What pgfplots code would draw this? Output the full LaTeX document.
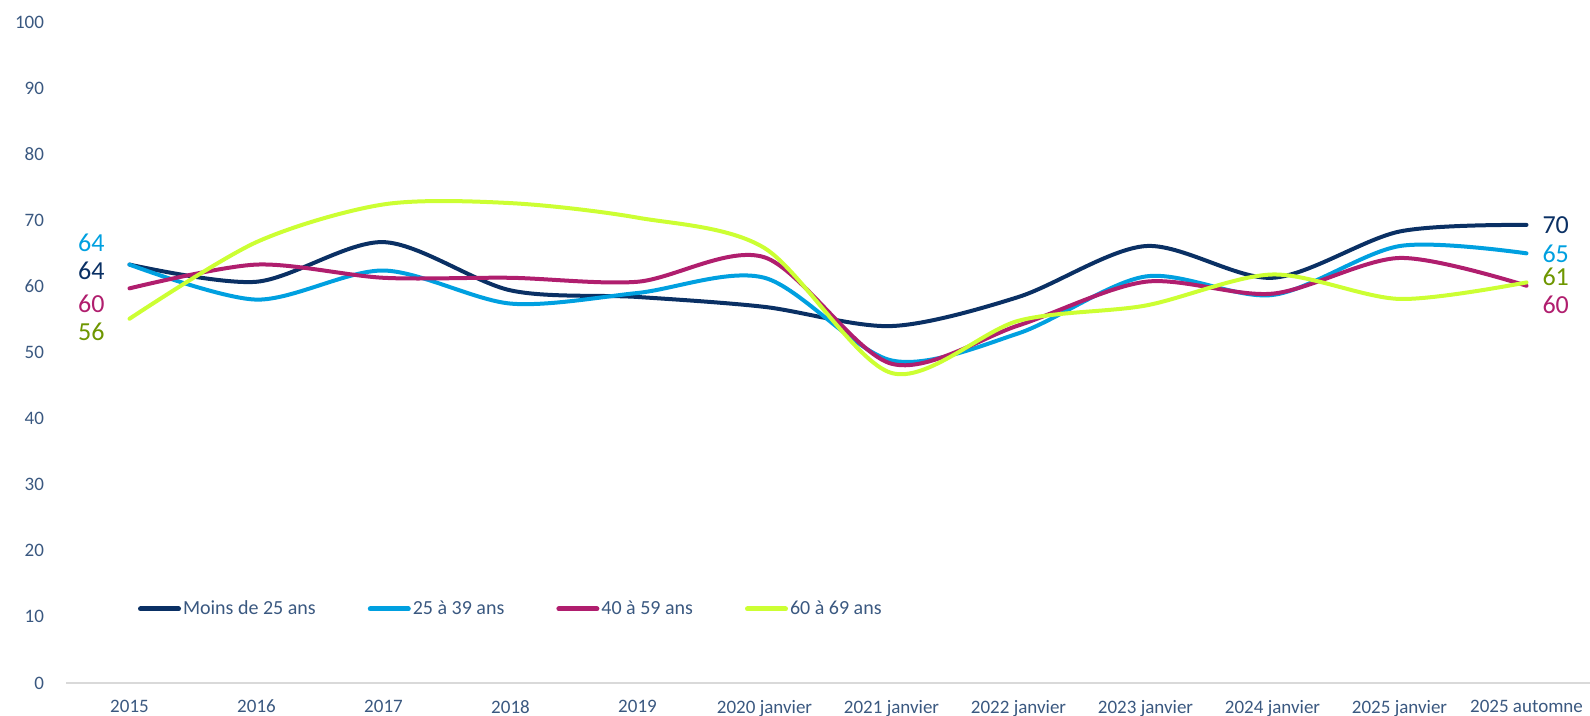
\documentclass[border=0pt]{standalone}
\usepackage{fontspec}
\setmainfont{Carlito}
\usepackage{pgfplots}
\pgfplotsset{compat=1.18}
\definecolor{navyC}{HTML}{0A3064}
\definecolor{cyanC}{HTML}{00A0E0}
\definecolor{magC}{HTML}{B01E6E}
\definecolor{limeC}{HTML}{CCFF33}
\definecolor{oliveC}{HTML}{6E9600}
\definecolor{tickC}{HTML}{3A5880}
\begin{document}
\begin{tikzpicture}
\begin{axis}[
  at={(0,0)}, anchor=south west,
  scale only axis, width=762pt, height=330.5pt,
  xmin=-0.5, xmax=11.5, ymin=0, ymax=100,
  xtick={0,...,11},
  xticklabels={2015,2016,2017,2018,2019,2020 janvier,2021 janvier,2022 janvier,2023 janvier,2024 janvier,2025 janvier,2025 automne},
  ytick={0,10,...,100},
  axis x line*=bottom, axis y line*=left,
  y axis line style={draw=none},
  x axis line style={draw=black!15, line width=1.3pt, -},
  major tick length=0pt,
  /pgf/number format/assume math mode=true,
  tick label style={font=\fontsize{9.5}{11}\selectfont, text=tickC},
  yticklabel style={xshift=-7.5pt},
  xticklabel style={yshift=-5pt},
  clip=false,
  legend columns=4,
  legend cell align=left,
  legend style={at={(0.047,0.112)}, anchor=west, draw=none, fill=none, inner sep=0pt,
    font=\fontsize{10}{12}\selectfont, text=tickC,
    nodes={inner xsep=1pt},
    /tikz/every even column/.append style={column sep=25pt}},
  legend image code/.code={\draw[#1, line width=2.5pt, line cap=round, sharp plot] (1pt,0pt) -- (20pt,0pt);},
  every axis plot/.append style={line width=2pt, smooth, tension=0.5, no markers, line cap=round},
]
\addplot[navyC] coordinates {(0,63.3) (1,60.7) (2,66.7) (3,59.4) (4,58.4) (5,56.9) (6,54.0) (7,58.4) (8,66.1) (9,61.3) (10,68.3) (11,69.3)};
\addlegendentry{Moins de 25 ans}
\addplot[cyanC] coordinates {(0,63.3) (1,58.0) (2,62.4) (3,57.4) (4,59.0) (5,61.3) (6,48.8) (7,52.9) (8,61.5) (9,58.7) (10,66.1) (11,65.0)};
\addlegendentry{25 à 39 ans}
\addplot[magC] coordinates {(0,59.7) (1,63.3) (2,61.3) (3,61.3) (4,60.7) (5,64.4) (6,48.3) (7,54.1) (8,60.7) (9,58.9) (10,64.3) (11,60.1)};
\addlegendentry{40 à 59 ans}
\addplot[limeC] coordinates {(0,55.1) (1,66.7) (2,72.4) (3,72.6) (4,70.4) (5,65.8) (6,46.9) (7,54.8) (8,57.1) (9,61.8) (10,58.1) (11,60.6)};
\addlegendentry{60 à 69 ans}
\begin{scope}[every node/.style={font=\fontsize{13}{15}\selectfont, inner sep=0pt}]
\node[text=cyanC] at (axis cs:-0.30,66.6) {64};
\node[text=navyC] at (axis cs:-0.30,62.4) {64};
\node[text=magC] at (axis cs:-0.30,57.4) {60};
\node[text=oliveC] at (axis cs:-0.30,53.1) {56};
\node[text=navyC] at (axis cs:11.23,69.2) {70};
\node[text=cyanC] at (axis cs:11.23,65.0) {65};
\node[text=oliveC] at (axis cs:11.23,61.5) {61};
\node[text=magC] at (axis cs:11.23,57.2) {60};
\end{scope}
\end{axis}
\pgfresetboundingbox
\path[use as bounding box] (-33pt,-16.5pt) rectangle (762pt,341.5pt);
\end{tikzpicture}
\end{document}
